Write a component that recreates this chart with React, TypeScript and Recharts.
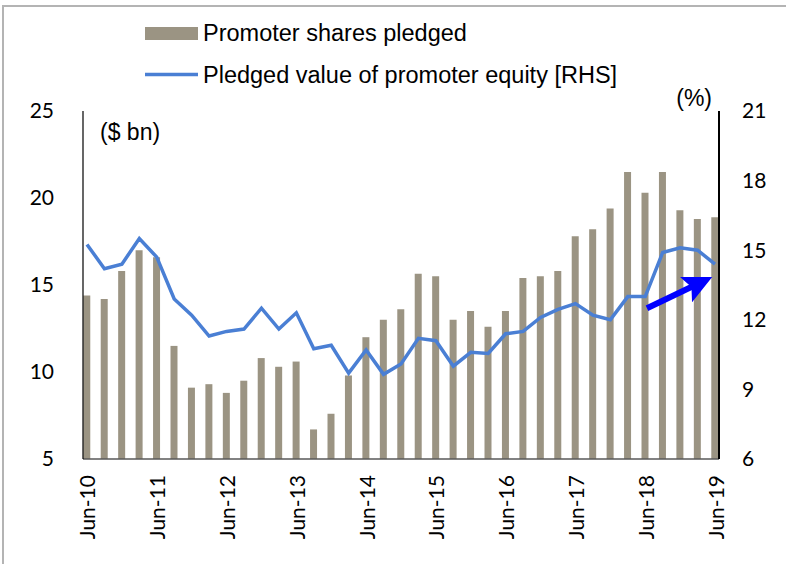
import React from 'react';
import { ComposedChart, Bar, Line, XAxis, YAxis, Legend, ReferenceLine } from 'recharts';

const quarters = [
  'Jun-10', 'Sep-10', 'Dec-10', 'Mar-11',
  'Jun-11', 'Sep-11', 'Dec-11', 'Mar-12',
  'Jun-12', 'Sep-12', 'Dec-12', 'Mar-13',
  'Jun-13', 'Sep-13', 'Dec-13', 'Mar-14',
  'Jun-14', 'Sep-14', 'Dec-14', 'Mar-15',
  'Jun-15', 'Sep-15', 'Dec-15', 'Mar-16',
  'Jun-16', 'Sep-16', 'Dec-16', 'Mar-17',
  'Jun-17', 'Sep-17', 'Dec-17', 'Mar-18',
  'Jun-18', 'Sep-18', 'Dec-18', 'Mar-19',
  'Jun-19',
];

// Promoter shares pledged ($ bn, left axis)
const sharesPledged = [
  14.4, 14.2, 15.8, 17.0, 16.6, 11.5, 9.1, 9.3, 8.8, 9.5,
  10.8, 10.3, 10.6, 6.7, 7.6, 9.8, 12.0, 13.0, 13.6, 15.65,
  15.5, 13.0, 13.5, 12.6, 13.5, 15.4, 15.5, 15.8, 17.8, 18.2,
  19.4, 21.5, 20.3, 21.5, 19.3, 18.8, 18.9,
];

// Pledged value of promoter equity (%, right axis)
const pledgedValue = [
  15.25, 14.2, 14.4, 15.5, 14.7, 12.9, 12.2, 11.3, 11.5, 11.6,
  12.5, 11.6, 12.3, 10.75, 10.9, 9.7, 10.7, 9.65, 10.1, 11.2,
  11.1, 10.0, 10.6, 10.55, 11.4, 11.5, 12.1, 12.45, 12.7, 12.2,
  12.0, 13.0, 13.0, 14.9, 15.1, 15.0, 14.4,
];

const leftTicks = [5, 10, 15, 20, 25];
const rightTicks = [6, 9, 12, 15, 18, 21];
const xTickLabels = ['Jun-10', 'Jun-11', 'Jun-12', 'Jun-13', 'Jun-14', 'Jun-15', 'Jun-16', 'Jun-17', 'Jun-18', 'Jun-19'];

// Arrow annotation (data space: x = quarter index, y = right axis %)
const arrowStart = { x: 32.1, y: 12.5 };
const arrowEnd = { x: 35.84, y: 13.84 };

const BAR_COLOR = '#9b9483';
const LINE_COLOR = '#4a7fd4';
const ARROW_COLOR = '#0000ff';
const TICK_FONT = 'Lato, "Open Sans", sans-serif';
const TEXT_FONT = '"Liberation Sans", Arial, sans-serif';

const data = quarters.map((q, i) => ({
  idx: i,
  q,
  shares: sharesPledged[i],
  value: pledgedValue[i],
}));

const xTicks = xTickLabels.map((l) => quarters.indexOf(l));

const XTick = (props: any) => {
  const { x, y, payload } = props;
  return (
    <text
      x={x}
      y={y}
      transform={`rotate(-90 ${x} ${y})`}
      textAnchor="end"
      dominantBaseline="central"
      fontFamily={TICK_FONT}
      fontSize={21}
      fill="#000"
    >
      {quarters[payload.value]}
    </text>
  );
};

const ArrowShape = (props: any) => {
  const { x1, y1, x2, y2 } = props;
  if ([x1, y1, x2, y2].some((v) => typeof v !== 'number' || isNaN(v))) return null;
  const dx = x2 - x1;
  const dy = y2 - y1;
  const len = Math.sqrt(dx * dx + dy * dy) || 1;
  const ux = dx / len;
  const uy = dy / len;
  const nx = -uy;
  const ny = ux;
  const L = 29;
  const W = 14;
  const notch = 6;
  const bx = x2 - L * ux;
  const by = y2 - L * uy;
  const w1x = bx + W * nx;
  const w1y = by + W * ny;
  const w2x = bx - W * nx;
  const w2y = by - W * ny;
  const kx = bx + notch * ux;
  const ky = by + notch * uy;
  return (
    <g>
      <line x1={x1} y1={y1} x2={kx + ux} y2={ky + uy} stroke={ARROW_COLOR} strokeWidth={6} />
      <polygon points={`${x2},${y2} ${w1x},${w1y} ${kx},${ky} ${w2x},${w2y}`} fill={ARROW_COLOR} />
    </g>
  );
};

const renderLegend = () => (
  <svg width={520} height={100} style={{ display: 'block' }}>
    <rect x={0} y={27} width={53} height={13} fill={BAR_COLOR} />
    <text x={58} y={41} fontFamily={TEXT_FONT} fontSize={23.5} fill="#000">
      Promoter shares pledged
    </text>
    <line x1={0} y1={74.5} x2={53} y2={74.5} stroke={LINE_COLOR} strokeWidth={3.5} />
    <text x={58} y={82.5} fontFamily={TEXT_FONT} fontSize={23.5} fill="#000">
      Pledged value of promoter equity [RHS]
    </text>
  </svg>
);

const LeftUnit = (props: any) => {
  const vb = props.viewBox || {};
  return (
    <text
      x={vb.x + vb.width + 17}
      y={vb.y + 21}
      dominantBaseline="central"
      textAnchor="start"
      fontFamily={TEXT_FONT}
      fontSize={23}
      fill="#000"
    >
      ($ bn)
    </text>
  );
};

const RightUnit = (props: any) => {
  const vb = props.viewBox || {};
  return (
    <text
      x={vb.x - 7}
      y={vb.y - 13}
      dominantBaseline="central"
      textAnchor="end"
      fontFamily={TEXT_FONT}
      fontSize={23}
      fill="#000"
    >
      (%)
    </text>
  );
};

export default function App() {
  return (
    <div
      style={{
        position: 'absolute',
        left: 0,
        top: 0,
        width: 786,
        height: 564,
        overflow: 'hidden',
        background: '#fff',
      }}
    >
      <div
        style={{
          position: 'absolute',
          left: 2,
          top: 5,
          width: 900,
          height: 700,
          borderLeft: '2px solid #b4b4b4',
          borderTop: '2px solid #b4b4b4',
        }}
      />
      <div style={{ position: 'absolute', left: 0, top: 0 }}>
        <ComposedChart
          width={786}
          height={564}
          data={data}
          margin={{ top: 111, right: 0, bottom: 0, left: 0 }}
        >
          <XAxis
            dataKey="idx"
            type="number"
            domain={[-0.229, 36.229]}
            allowDataOverflow
            ticks={xTicks}
            interval={0}
            height={105}
            tickLine={false}
            tickSize={0}
            tickMargin={16}
            axisLine={{ stroke: '#595959', strokeWidth: 1.5 }}
            tick={<XTick />}
          />
          <YAxis
            yAxisId="left"
            orientation="left"
            width={83}
            domain={[5, 25]}
            ticks={leftTicks}
            interval={0}
            allowDataOverflow
            tickLine={false}
            tickSize={0}
            tickMargin={29}
            axisLine={{ stroke: '#000', strokeWidth: 1.2 }}
            tick={{ fontFamily: TICK_FONT, fontSize: 21, fill: '#000' }}
            label={{ content: <LeftUnit /> }}
          />
          <YAxis
            yAxisId="right"
            orientation="right"
            width={67}
            domain={[6, 21]}
            ticks={rightTicks}
            interval={0}
            allowDataOverflow
            tickLine={false}
            tickSize={0}
            tickMargin={23}
            axisLine={{ stroke: '#000', strokeWidth: 2 }}
            tick={{ fontFamily: TICK_FONT, fontSize: 21, fill: '#000', textAnchor: 'start' }}
            label={{ content: <RightUnit /> }}
          />
          <Legend
            layout="vertical"
            align="center"
            verticalAlign="middle"
            content={renderLegend}
            wrapperStyle={{ position: 'absolute', left: 145, top: 0, width: 520, height: 100 }}
          />
          <Bar
            yAxisId="left"
            dataKey="shares"
            name="Promoter shares pledged"
            fill={BAR_COLOR}
            barSize={7}
            isAnimationActive={false}
          />
          <Line
            yAxisId="right"
            dataKey="value"
            name="Pledged value of promoter equity [RHS]"
            stroke={LINE_COLOR}
            strokeWidth={3.5}
            dot={false}
            activeDot={false}
            isAnimationActive={false}
            strokeLinejoin="miter"
          />
          <ReferenceLine
            yAxisId="right"
            segment={[arrowStart, arrowEnd]}
            ifOverflow="visible"
            shape={ArrowShape}
          />
        </ComposedChart>
      </div>
    </div>
  );
}
